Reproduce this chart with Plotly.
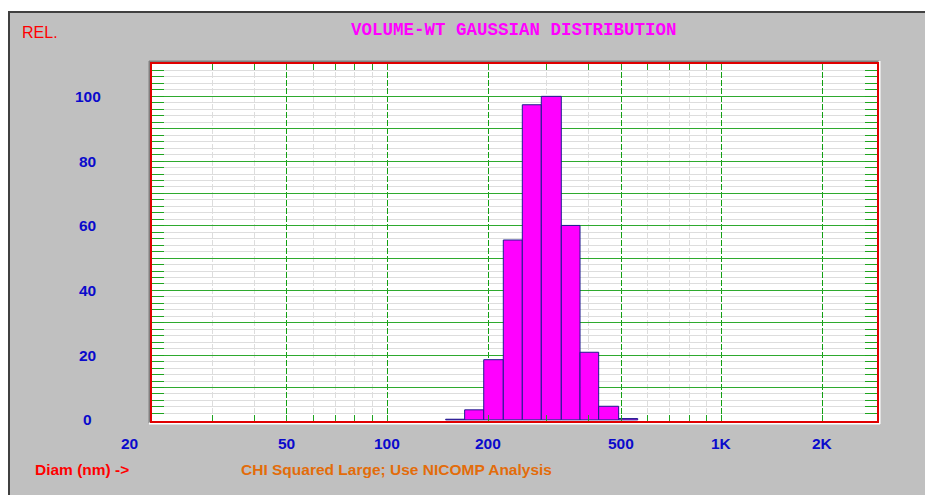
import math
import plotly.graph_objects as go

# ---------------- data ----------------
bin_edges_nm = [149.4, 170.3, 194.2, 222.2, 253.3, 288.7, 331.3, 376.9, 428.5, 491.7, 560.6]
rel_volume = [0.2, 3.1, 18.6, 55.6, 97.4, 100.0, 60.1, 20.9, 4.2, 0.4]

x_tick_vals = [50, 100, 200, 500, 1000, 2000]
x_tick_text = ["50", "100", "200", "500", "1K", "2K"]
x_first_label_val = 20
x_first_label_text = "20"
x_minor_vals = [30, 40, 60, 70, 80, 90, 300, 400, 600, 700, 800, 900]

y_label_vals = [0, 20, 40, 60, 80, 100]
y_label_text = ["0", "20", "40", "60", "80", "100"]
y_major_vals = [10, 20, 30, 40, 50, 60, 70, 80, 90, 100]
y_minor_vals = [2, 4, 6, 8, 12, 14, 16, 18, 22, 24, 26, 28, 32, 34, 36, 38,
                42, 44, 46, 48, 52, 54, 56, 58, 62, 64, 66, 68, 72, 74, 76, 78,
                82, 84, 86, 88, 92, 94, 96, 98, 102, 104, 106, 108]

title_text = "VOLUME-WT GAUSSIAN DISTRIBUTION"
y_title_text = "REL."
x_title_text = "Diam (nm) ->"
note_text = "CHI Squared Large; Use NICOMP Analysis"

# ---------------- layout geometry (page pixels) ----------------
W, H = 925, 495
PLOT_L, PLOT_R, PLOT_T, PLOT_B = 152, 877, 64, 421
ML, MR, MT, MB = PLOT_L, W - PLOT_R, PLOT_T, H - PLOT_B
PW, PH = W - ML - MR, H - MT - MB
DECADE_PX = 334.4


def px2x(px):
    return (px - PLOT_L) / PW


def py2y(py):
    return (PLOT_B - py) / PH


BLUE = "#0A0ACC"
GREEN = "#1FA51F"
LABEL_FONT = dict(family="Liberation Sans", size=15.5, color=BLUE, weight="bold")

fig = go.Figure()

for i, h in enumerate(rel_volume):
    l, r = bin_edges_nm[i], bin_edges_nm[i + 1]
    fig.add_trace(go.Scatter(
        x=[l, l, r, r, l], y=[0, h, h, 0, 0],
        mode="lines", fill="toself", fillcolor="#FF00FF",
        line=dict(color="#1C1C8E", width=1),
        hoverinfo="skip", showlegend=False,
    ))

annotations = []
for v, t in zip(y_label_vals, y_label_text):
    annotations.append(dict(x=px2x(87.5), xref="paper", y=v, yref="y",
                            text=t, showarrow=False, xanchor="center",
                            yanchor="middle", font=LABEL_FONT))
for v, t in zip(x_tick_vals, x_tick_text):
    annotations.append(dict(x=math.log10(v), xref="x", y=py2y(443), yref="paper",
                            text=t, showarrow=False, xanchor="center",
                            yanchor="middle", font=LABEL_FONT))
annotations.append(dict(x=math.log10(x_first_label_val), xref="x", xshift=-24,
                        y=py2y(443), yref="paper", text=x_first_label_text,
                        showarrow=False, xanchor="center", yanchor="middle",
                        font=LABEL_FONT))
annotations.append(dict(x=px2x(20), xref="paper", y=py2y(32), yref="paper",
                        text=y_title_text, showarrow=False, xanchor="left",
                        yanchor="middle",
                        font=dict(family="Liberation Sans", size=16, color="#FF0000")))
annotations.append(dict(x=px2x(33), xref="paper", y=py2y(469), yref="paper",
                        text=x_title_text, showarrow=False, xanchor="left",
                        yanchor="middle",
                        font=dict(family="Liberation Sans", size=15.5, color="#FF0000",
                                  weight="bold")))
annotations.append(dict(x=px2x(239), xref="paper", y=py2y(469), yref="paper",
                        text=note_text, showarrow=False, xanchor="left",
                        yanchor="middle",
                        font=dict(family="Liberation Sans", size=15.5, color="#E36C0A",
                                  weight="bold")))
annotations.append(dict(x=px2x(514), xref="paper", y=py2y(30), yref="paper",
                        text=title_text, showarrow=False, xanchor="center",
                        yanchor="middle",
                        font=dict(family="Liberation Mono", size=17.5, color="#FF00FF",
                                  weight="bold")))

shapes = []
# window frame (white top/left strips + dark edges)
shapes.append(dict(type="rect", xref="paper", yref="paper", layer="below",
                   x0=px2x(0), x1=px2x(W), y0=py2y(11), y1=py2y(0),
                   fillcolor="#FFFFFF", line=dict(width=0)))
shapes.append(dict(type="rect", xref="paper", yref="paper", layer="below",
                   x0=px2x(0), x1=px2x(8), y0=py2y(H), y1=py2y(0),
                   fillcolor="#FFFFFF", line=dict(width=0)))
shapes.append(dict(type="line", xref="paper", yref="paper", layer="below",
                   x0=px2x(8), x1=px2x(W), y0=py2y(12), y1=py2y(12),
                   line=dict(color="#404040", width=2)))
shapes.append(dict(type="line", xref="paper", yref="paper", layer="below",
                   x0=px2x(9), x1=px2x(9), y0=py2y(11), y1=py2y(H),
                   line=dict(color="#404040", width=2)))
# sunken border around plot area
shapes.append(dict(type="line", xref="paper", yref="paper", layer="below",
                   x0=px2x(PLOT_L - 2.5), x1=px2x(PLOT_L - 2.5),
                   y0=py2y(PLOT_B + 2), y1=py2y(PLOT_T - 3),
                   line=dict(color="#808080", width=2)))
shapes.append(dict(type="line", xref="paper", yref="paper", layer="below",
                   x0=px2x(PLOT_L - 3), x1=px2x(PLOT_R + 2),
                   y0=py2y(PLOT_T - 2.5), y1=py2y(PLOT_T - 2.5),
                   line=dict(color="#808080", width=2)))
shapes.append(dict(type="line", xref="paper", yref="paper", layer="below",
                   x0=px2x(PLOT_R + 2.5), x1=px2x(PLOT_R + 2.5),
                   y0=py2y(PLOT_B + 3), y1=py2y(PLOT_T - 3),
                   line=dict(color="#FFFFFF", width=2)))
shapes.append(dict(type="line", xref="paper", yref="paper", layer="below",
                   x0=px2x(PLOT_L - 3), x1=px2x(PLOT_R + 3),
                   y0=py2y(PLOT_B + 2.5), y1=py2y(PLOT_B + 2.5),
                   line=dict(color="#FFFFFF", width=2)))

x_lo = math.log10(x_tick_vals[0]) - math.log10(2.5) - 1.6 / DECADE_PX
x_hi = x_lo + PW / DECADE_PX

fig.update_layout(
    width=W, height=H,
    margin=dict(l=ML, r=MR, t=MT, b=MB, pad=0),
    paper_bgcolor="#C0C0C0", plot_bgcolor="#FFFFFF",
    showlegend=False, hovermode=False,
    annotations=annotations, shapes=shapes,
    xaxis=dict(
        type="log", range=[x_lo, x_hi],
        tickvals=x_tick_vals, ticktext=x_tick_text, showticklabels=False,
        ticks="inside", ticklen=6, tickcolor=GREEN, tickwidth=1,
        showgrid=True, gridcolor="#11A011", gridwidth=1, griddash="6px,2px",
        showline=True, linecolor="#E00000", linewidth=2, mirror="allticks",
        zeroline=False,
        minor=dict(tickvals=x_minor_vals, ticks="inside", ticklen=6,
                   tickcolor=GREEN, showgrid=True, gridcolor="#DDDDDD", gridwidth=1),
    ),
    yaxis=dict(
        range=[-0.35, 110],
        tickvals=y_major_vals, showticklabels=False,
        ticks="inside", ticklen=12, tickcolor=GREEN, tickwidth=1,
        showgrid=True, gridcolor="#2EAA2E", gridwidth=1,
        showline=True, linecolor="#E00000", linewidth=2, mirror="allticks",
        zeroline=False,
        minor=dict(tickvals=y_minor_vals, ticks="inside", ticklen=12,
                   tickcolor=GREEN, showgrid=True, gridcolor="#DDDDDD", gridwidth=1),
    ),
)

fig.write_html(
    "out.html",
    config={"displayModeBar": False},
    post_script="document.body.style.margin='0';document.body.style.overflow='hidden';",
)
